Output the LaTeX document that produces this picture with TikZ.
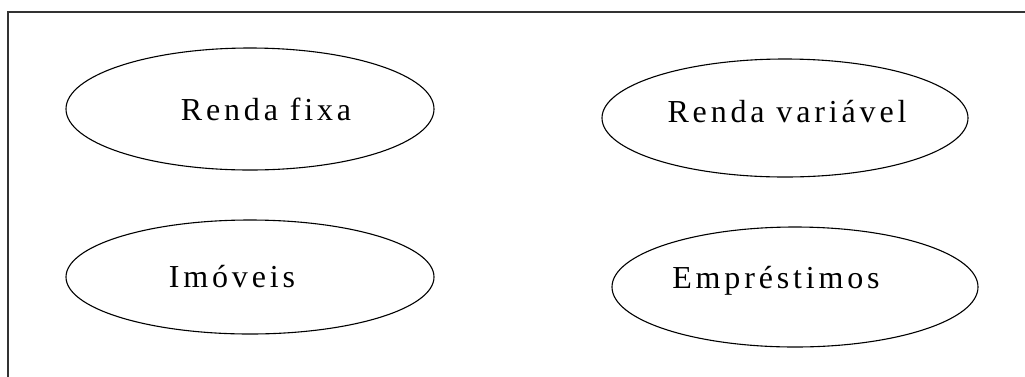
\documentclass[tikz,border=0pt]{standalone}
\usepackage{fontspec}
\setmainfont{Liberation Serif}[LetterSpace=12]
\usetikzlibrary{shapes.geometric}
\begin{document}
\begin{tikzpicture}[x=1pt,y=-1pt,
  oval/.style={draw, line width=1.1pt, ellipse, inner sep=0pt},
  lbl/.style={anchor=base, inner sep=0pt, font=\fontsize{32}{38}\selectfont}]
\useasboundingbox (0,0) rectangle (1025,376);
\clip (0,0) rectangle (1025,376);
% open frame running off the page to the right and bottom
\draw[line width=1.6pt, draw=black!80] (8,12) rectangle (1060,420);
% asset classes
\node[oval, minimum width=368pt, minimum height=122pt] (rf) at (250,109) {};
\node[oval, minimum width=366pt, minimum height=118pt] (rv) at (785,118) {};
\node[oval, minimum width=368pt, minimum height=114pt] (im) at (250,277) {};
\node[oval, minimum width=366pt, minimum height=120pt] (em) at (795,287) {};
\node[lbl] (trf) at ([xshift=16pt,yshift=-11pt]rf.center) {Renda fixa};
\node[lbl] (trv) at ([xshift=2pt,yshift=-4pt]rv.center) {Renda variável};
\node[lbl] (tim) at ([xshift=-18pt,yshift=-10pt]im.center) {Imóveis};
\node[lbl] (tem) at ([xshift=-19pt,yshift=-1pt]em.center) {Empréstimos};
\end{tikzpicture}
\end{document}
